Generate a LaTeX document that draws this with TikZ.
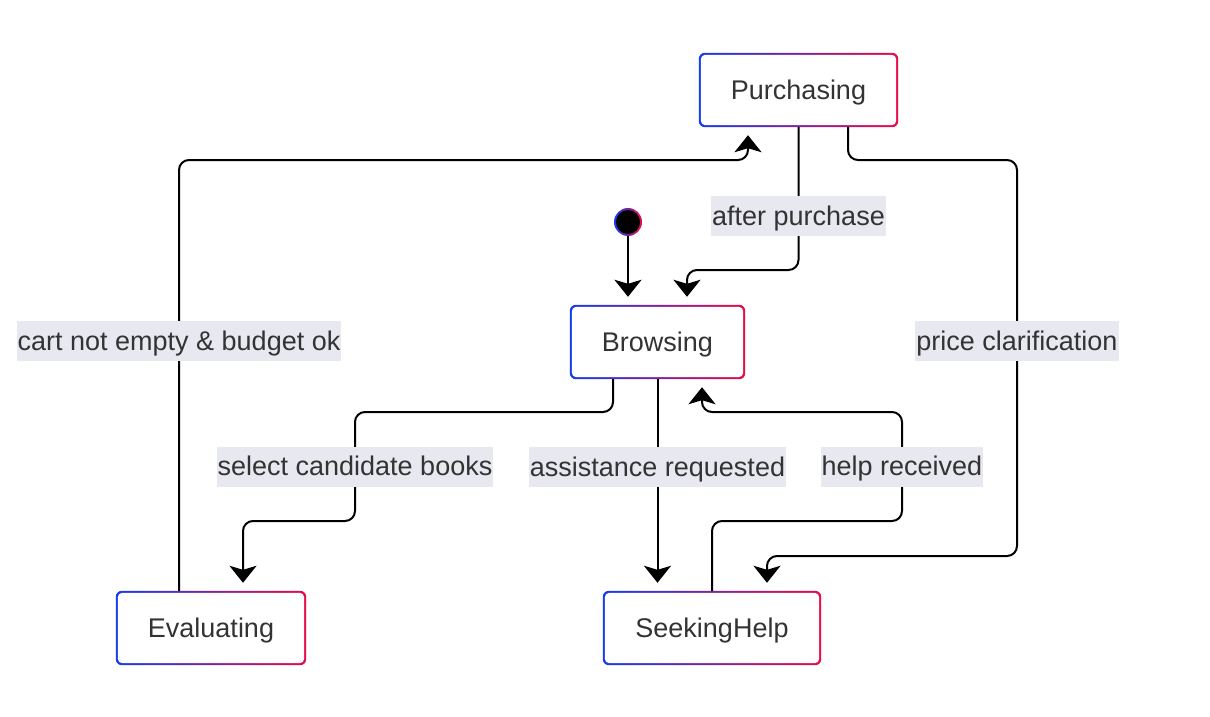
\documentclass[tikz,border=0pt]{standalone}
\usepackage{fontspec}
\setmainfont{Liberation Sans}
\usetikzlibrary{arrows.meta,backgrounds,calc}
\definecolor{cb}{RGB}{20,60,240}
\definecolor{cr}{RGB}{235,10,70}
\definecolor{txt}{RGB}{51,51,51}
\definecolor{lblbg}{RGB}{232,232,240}
\tikzset{
  txtfont/.style={text=txt, font=\fontsize{27pt}{32pt}\selectfont, text height=24.4pt, text depth=5.7pt},
  st/.style={minimum height=74pt, inner sep=0pt, txtfont},
  edge/.style={draw=black, line width=2pt, rounded corners=10pt,
    -{Stealth[length=17pt,width=27pt,inset=4pt]}, shorten >=8pt},
  lbl/.style={fill=lblbg, sharp corners, inner xsep=1pt, inner ysep=0pt, minimum height=40pt, txtfont},
}
\begin{document}
\begin{tikzpicture}[x=1pt,y=-1pt]
\useasboundingbox (0,0) rectangle (1210,717);
\node[st, minimum width=199pt] (P) at (798.5,90) {Purchasing};
\node[st, minimum width=175pt] (B) at (657.5,342) {Browsing};
\node[st, minimum width=190pt] (E) at (211,628) {Evaluating};
\node[st, minimum width=218pt] (SH) at (712,628) {SeekingHelp};
\node[circle, minimum size=28pt, inner sep=0pt] (S) at (628,222) {};
\begin{scope}[on background layer]
\foreach \n in {P,B,E,SH} {
  \shade[left color=cb, right color=cr, rounded corners=6pt] (\n.south west) rectangle (\n.north east);
  \fill[white, rounded corners=4.5pt] ([shift={(2pt,2pt)}]\n.south west) rectangle ([shift={(-2pt,-2pt)}]\n.north east);
}
\shade[left color=cb, right color=cr] (S.center) circle (14pt);
\fill[black] (S.center) circle (12pt);
\end{scope}
% edges
\draw[edge] (S.south) -- (S.south |- B.north);
\draw[edge] (P.south) -- node[lbl,pos=0.62]{after purchase} (798.5,270) -| ([xshift=29.5pt]B.north);
\draw[edge] ([xshift=49.5pt]P.south) |- (1017,160) -- node[lbl,pos=0.457]{price clarification} (1017,556) -| ([xshift=55pt]SH.north);
\draw[edge] ([xshift=-32pt]E.north) -- node[lbl,pos=0.58]{cart not empty \& budget ok} (179,160) -| ([xshift=-50.5pt]P.south);
\draw[edge] ([xshift=-44.5pt]B.south) |- (355,412) -- node[lbl]{select candidate books} (355,521) -| ([xshift=32pt]E.north);
\draw[edge] (B.south) -- node[lbl,pos=0.415]{assistance requested} (SH.north -| B.south);
\draw[edge] (SH.north) |- (902,521) -- node[lbl]{help received} (902,412) -| ([xshift=44.5pt]B.south);
\end{tikzpicture}
\end{document}
